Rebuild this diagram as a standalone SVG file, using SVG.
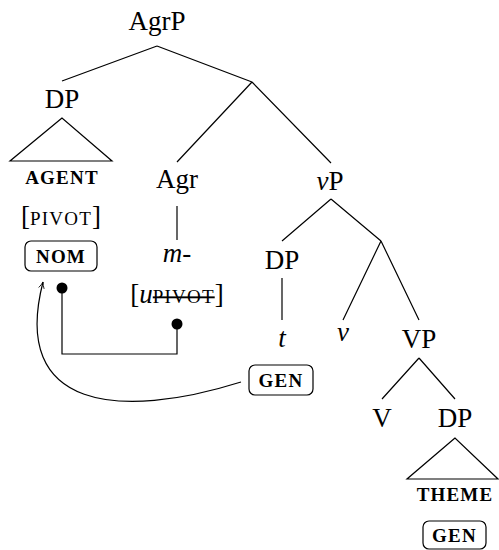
<svg xmlns="http://www.w3.org/2000/svg" width="499" height="550" viewBox="0 0 499 550">
<defs>
<style>
.t{font-family:"Liberation Serif",serif;font-size:27px;fill:#000;text-anchor:middle}
.sc{font-family:"Liberation Serif",serif;font-size:19px;font-weight:bold;letter-spacing:1.2px;fill:#000;text-anchor:middle}
.sc2{font-family:"Liberation Serif",serif;font-size:19px;letter-spacing:1.2px}
.i{font-style:italic}
.e{stroke:#000;stroke-width:1.2;fill:none}
.box{fill:#fff;stroke:#000;stroke-width:1.2}
</style>
<marker id="arr" viewBox="0 0 10 10" refX="9" refY="5" markerWidth="8" markerHeight="8" orient="auto" markerUnits="userSpaceOnUse">
<path d="M1,1.5 Q5,4 9,5 Q5,6 1,8.5" fill="none" stroke="#000" stroke-width="1"/>
</marker>
</defs>
<g id="edges">
<path class="e" d="M157,46 L62,81 M157,46 L252,82 M252,82 L177,162 M252,82 L331,163"/>
<path class="e" d="M62,118 L10,161 L112,161 Z"/>
<path class="e" d="M177,206 L177,240"/>
<path class="e" d="M331,199 L282,241 M331,199 L381,241 M381,241 L343,320 M381,241 L419,320"/>
<path class="e" d="M282,278 L282,320"/>
<path class="e" d="M419,358 L382,399 M419,358 L455,399"/>
<path class="e" d="M455,438 L407,479 L498,479 Z"/>
</g>
<g id="connectors">
<polyline class="e" points="62,288 62,354 177,354 177,324"/>
<circle cx="62" cy="288" r="5.5" fill="#000"/>
<circle cx="177" cy="324" r="5.5" fill="#000"/>
<path class="e" d="M241,382 C120,420 10,410 43,282" marker-end="url(#arr)"/>
</g>
<g id="AgrP"><text class="t" x="157" y="30">AgrP</text></g>
<g id="DP1"><text class="t" x="62" y="108">DP</text></g>
<g id="agent"><text class="sc" x="62" y="184">AGENT</text></g>
<g id="pivot"><text class="t" x="61" y="225">[<tspan class="sc2">PIVOT</tspan>]</text></g>
<g id="nom"><rect class="box" x="25" y="241" width="72" height="30" rx="6"/><text class="sc" x="61" y="263">NOM</text></g>
<g id="Agr"><text class="t" x="177" y="188">Agr</text></g>
<g id="m"><text class="t i" x="177" y="262">m-</text></g>
<g id="upivot"><text class="t" x="177" y="303">[<tspan class="i">u</tspan><tspan class="sc2" text-decoration="line-through">PIVOT</tspan>]</text></g>
<g id="vP"><text class="t" x="330" y="190"><tspan class="i">v</tspan>P</text></g>
<g id="DP2"><text class="t" x="282" y="269">DP</text></g>
<g id="t"><text class="t i" x="282" y="347">t</text></g>
<g id="v"><text class="t i" x="343" y="341">v</text></g>
<g id="VP"><text class="t" x="419" y="348">VP</text></g>
<g id="gen1"><rect class="box" x="249" y="365" width="64" height="30" rx="6"/><text class="sc" x="281" y="387">GEN</text></g>
<g id="V"><text class="t" x="382" y="427">V</text></g>
<g id="DP3"><text class="t" x="455" y="427">DP</text></g>
<g id="theme"><text class="sc" x="455" y="501">THEME</text></g>
<g id="gen2"><rect class="box" x="423" y="521" width="63" height="28" rx="6"/><text class="sc" x="454.5" y="542">GEN</text></g>
</svg>
